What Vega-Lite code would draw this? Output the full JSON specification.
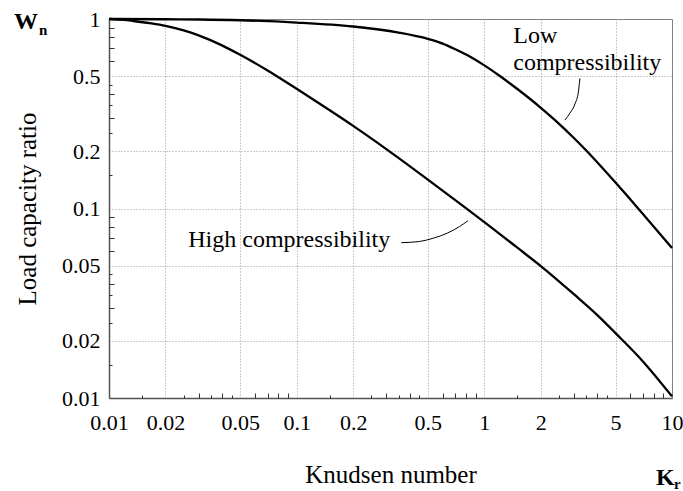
{
  "$schema": "https://vega.github.io/schema/vega-lite/v6.json",
  "width": 563,
  "height": 379,
  "autosize": {"type": "none"},
  "padding": {"left": 109, "top": 19, "right": 11, "bottom": 93},
  "config": {
    "font": "Liberation Serif",
    "view": {"stroke": "#777", "strokeWidth": 1},
    "axis": {
      "labelFont": "Liberation Serif",
      "titleFont": "Liberation Serif",
      "labelColor": "#000",
      "titleColor": "#000",
      "titleFontWeight": "normal"
    }
  },
  "datasets": {
    "curves": [
      {"series": "High", "k": 0.01, "w": 1.0},
      {"series": "High", "k": 0.012, "w": 0.99},
      {"series": "High", "k": 0.0135, "w": 0.976},
      {"series": "High", "k": 0.0165, "w": 0.95},
      {"series": "High", "k": 0.02, "w": 0.92},
      {"series": "High", "k": 0.025, "w": 0.87},
      {"series": "High", "k": 0.03, "w": 0.82},
      {"series": "High", "k": 0.04, "w": 0.726},
      {"series": "High", "k": 0.05, "w": 0.647},
      {"series": "High", "k": 0.07, "w": 0.535},
      {"series": "High", "k": 0.1, "w": 0.428},
      {"series": "High", "k": 0.15, "w": 0.33},
      {"series": "High", "k": 0.2, "w": 0.273},
      {"series": "High", "k": 0.27, "w": 0.222},
      {"series": "High", "k": 0.35, "w": 0.1845},
      {"series": "High", "k": 0.5, "w": 0.142},
      {"series": "High", "k": 0.785, "w": 0.1016},
      {"series": "High", "k": 1, "w": 0.0848},
      {"series": "High", "k": 1.5, "w": 0.0621},
      {"series": "High", "k": 2, "w": 0.0497},
      {"series": "High", "k": 3, "w": 0.0353},
      {"series": "High", "k": 4, "w": 0.0274},
      {"series": "High", "k": 5, "w": 0.022},
      {"series": "High", "k": 7, "w": 0.0156},
      {"series": "High", "k": 10, "w": 0.0102},
      {"series": "Low", "k": 0.01, "w": 1.0},
      {"series": "Low", "k": 0.02, "w": 0.997},
      {"series": "Low", "k": 0.03, "w": 0.994},
      {"series": "Low", "k": 0.05, "w": 0.985},
      {"series": "Low", "k": 0.1, "w": 0.958},
      {"series": "Low", "k": 0.2, "w": 0.913},
      {"series": "Low", "k": 0.35, "w": 0.847},
      {"series": "Low", "k": 0.5, "w": 0.785},
      {"series": "Low", "k": 0.6, "w": 0.741},
      {"series": "Low", "k": 0.7, "w": 0.692},
      {"series": "Low", "k": 0.85, "w": 0.628},
      {"series": "Low", "k": 1, "w": 0.569},
      {"series": "Low", "k": 1.21, "w": 0.5},
      {"series": "Low", "k": 1.5, "w": 0.427},
      {"series": "Low", "k": 2, "w": 0.34},
      {"series": "Low", "k": 2.38, "w": 0.2927},
      {"series": "Low", "k": 3, "w": 0.2355},
      {"series": "Low", "k": 3.44, "w": 0.2054},
      {"series": "Low", "k": 4.2, "w": 0.1662},
      {"series": "Low", "k": 5, "w": 0.1372},
      {"series": "Low", "k": 5.85, "w": 0.1149},
      {"series": "Low", "k": 7, "w": 0.0934},
      {"series": "Low", "k": 10, "w": 0.0618}
    ],
    "leaders": [
      {"leader": "Low", "k": 3.23, "w": 0.486},
      {"leader": "Low", "k": 3.17, "w": 0.412},
      {"leader": "Low", "k": 3.04, "w": 0.356},
      {"leader": "Low", "k": 2.86, "w": 0.319},
      {"leader": "Low", "k": 2.69, "w": 0.293},
      {"leader": "High", "k": 0.361, "w": 0.066},
      {"leader": "High", "k": 0.452, "w": 0.067},
      {"leader": "High", "k": 0.532, "w": 0.0696},
      {"leader": "High", "k": 0.638, "w": 0.0743},
      {"leader": "High", "k": 0.739, "w": 0.0804},
      {"leader": "High", "k": 0.818, "w": 0.0862}
    ],
    "labels": [
      {"text": "Low", "k": 1.426, "w": 0.749},
      {"text": "compressibility", "k": 1.426, "w": 0.5355},
      {"text": "High compressibility", "k": 0.02645, "w": 0.0625}
    ],
    "symbols": [
      {"text": "W", "k": 0.00312, "w": 0.888},
      {"text": "K", "k": 8.21, "w": 0.00348}
    ],
    "subscripts": [
      {"text": "n", "k": 0.00424, "w": 0.826},
      {"text": "r", "k": 10.24, "w": 0.00332}
    ]
  },
  "resolve": {"axis": {"x": "independent", "y": "independent"}},
  "layer": [
    {
      "data": {"name": "curves"},
      "mark": {"type": "line", "color": "#000", "strokeWidth": 2.3, "interpolate": "monotone"},
      "encoding": {
        "x": {
          "field": "k", "type": "quantitative",
          "scale": {"type": "log", "domain": [0.01, 10], "nice": false},
          "axis": {
            "orient": "bottom",
            "values": [0.01, 0.02, 0.05, 0.1, 0.2, 0.5, 1, 2, 5, 10],
            "format": "~g",
            "ticks": false,
            "labelFontSize": 22,
            "labelPadding": 14,
            "labelFlush": false,
            "labelOverlap": false,
            "grid": true,
            "gridDash": [1, 2],
            "gridColor": "#999",
            "gridWidth": 1,
            "domain": true,
            "domainColor": "#555",
            "domainWidth": 1.5,
            "title": "Knudsen number",
            "titleFontSize": 25,
            "titlePadding": 29
          }
        },
        "y": {
          "field": "w", "type": "quantitative",
          "scale": {"type": "log", "domain": [0.01, 1], "nice": false},
          "axis": {
            "orient": "left",
            "values": [0.01, 0.02, 0.05, 0.1, 0.2, 0.5, 1],
            "format": "~g",
            "ticks": false,
            "labelFontSize": 22,
            "labelPadding": 9,
            "labelFlush": false,
            "labelOverlap": false,
            "grid": true,
            "gridDash": [1, 2],
            "gridColor": "#999",
            "gridWidth": 1,
            "domain": true,
            "domainColor": "#555",
            "domainWidth": 1.5,
            "title": "Load capacity ratio",
            "titleFontSize": 25,
            "titlePadding": 21
          }
        },
        "detail": {"field": "series", "type": "nominal"}
      }
    },
    {
      "data": {"name": "leaders"},
      "mark": {"type": "line", "color": "#000", "strokeWidth": 1, "interpolate": "monotone"},
      "encoding": {
        "x": {
          "field": "k", "type": "quantitative",
          "scale": {"type": "log", "domain": [0.01, 10], "nice": false},
          "axis": {
            "orient": "bottom",
            "values": [0.03, 0.04, 0.06, 0.07, 0.08, 0.09, 0.3, 0.4, 0.6, 0.7, 0.8, 0.9, 3, 4, 6, 7, 8, 9],
            "ticks": true, "tickSize": -5, "tickColor": "#333", "tickWidth": 1,
            "labels": false, "domain": false, "grid": false, "title": null
          }
        },
        "y": {
          "field": "w", "type": "quantitative",
          "scale": {"type": "log", "domain": [0.01, 1], "nice": false},
          "axis": {
            "orient": "left",
            "values": [0.03, 0.04, 0.06, 0.07, 0.08, 0.09, 0.3, 0.4, 0.6, 0.7, 0.8, 0.9],
            "ticks": true, "tickSize": -5, "tickColor": "#333", "tickWidth": 1,
            "labels": false, "domain": false, "grid": false, "title": null
          }
        },
        "detail": {"field": "leader", "type": "nominal"}
      }
    },
    {
      "data": {"name": "labels"},
      "mark": {"type": "text", "align": "left", "baseline": "alphabetic", "fontSize": 24, "font": "Liberation Serif", "color": "#000"},
      "encoding": {
        "x": {
          "field": "k", "type": "quantitative",
          "scale": {"type": "log", "domain": [0.01, 10], "nice": false},
          "axis": {
            "orient": "bottom",
            "values": [0.015, 0.025, 0.035, 0.045, 0.15, 0.25, 0.35, 0.45, 1.5, 2.5, 3.5, 4.5],
            "ticks": true, "tickSize": -3, "tickColor": "#333", "tickWidth": 1,
            "labels": false, "domain": false, "grid": false, "title": null
          }
        },
        "y": {
          "field": "w", "type": "quantitative",
          "scale": {"type": "log", "domain": [0.01, 1], "nice": false},
          "axis": {
            "orient": "left",
            "values": [0.015, 0.025, 0.035, 0.045, 0.15, 0.25, 0.35, 0.45],
            "ticks": true, "tickSize": -3, "tickColor": "#333", "tickWidth": 1,
            "labels": false, "domain": false, "grid": false, "title": null
          }
        },
        "text": {"field": "text"}
      }
    },
    {
      "data": {"name": "symbols"},
      "mark": {"type": "text", "align": "left", "baseline": "alphabetic", "fontSize": 24, "fontWeight": "bold", "font": "Liberation Serif", "color": "#000"},
      "encoding": {
        "x": {"field": "k", "type": "quantitative", "scale": {"type": "log", "domain": [0.01, 10], "nice": false}, "axis": null},
        "y": {"field": "w", "type": "quantitative", "scale": {"type": "log", "domain": [0.01, 1], "nice": false}, "axis": null},
        "text": {"field": "text"}
      }
    },
    {
      "data": {"name": "subscripts"},
      "mark": {"type": "text", "align": "left", "baseline": "alphabetic", "fontSize": 15, "fontWeight": "bold", "font": "Liberation Serif", "color": "#000"},
      "encoding": {
        "x": {"field": "k", "type": "quantitative", "scale": {"type": "log", "domain": [0.01, 10], "nice": false}, "axis": null},
        "y": {"field": "w", "type": "quantitative", "scale": {"type": "log", "domain": [0.01, 1], "nice": false}, "axis": null},
        "text": {"field": "text"}
      }
    }
  ]
}
